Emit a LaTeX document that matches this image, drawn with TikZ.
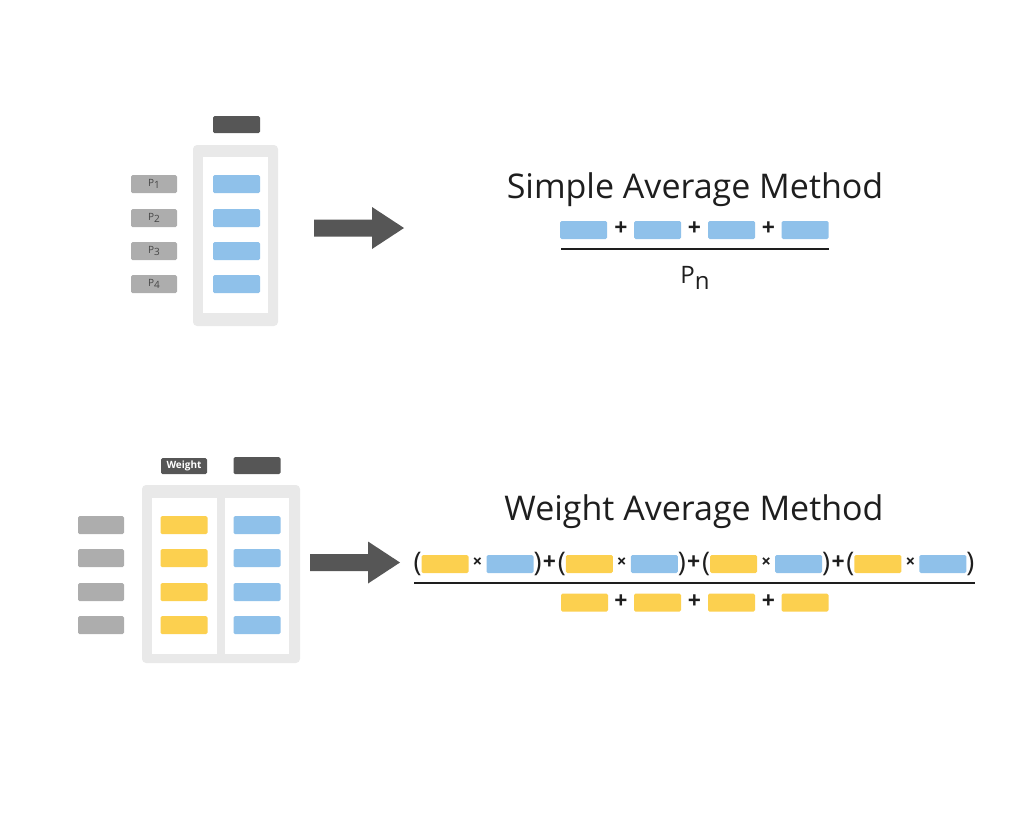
\documentclass[tikz,border=0pt]{standalone}
\usepackage{fontspec}
\setmainfont{Open Sans}
\usetikzlibrary{positioning}

\definecolor{cellblue}{HTML}{8FC1EA}
\definecolor{cellyellow}{HTML}{FCD04F}
\definecolor{headgray}{HTML}{565656}
\definecolor{labelgray}{HTML}{ADADAD}
\definecolor{framegray}{HTML}{E9E9E9}
\definecolor{inkgray}{HTML}{1E1E1E}

\begin{document}
\begin{tikzpicture}[x=1pt, y=-1pt,
  cell/.style={rectangle, rounded corners=1.5pt, minimum width=47pt, minimum height=18pt, inner sep=0pt},
  blue cell/.style={cell, fill=cellblue},
  yellow cell/.style={cell, fill=cellyellow},
  label cell/.style={cell, minimum width=46pt, fill=labelgray, text=headgray!80!black, font=\fontsize{10}{10}\selectfont},
  header/.style={cell, fill=headgray, minimum height=17pt},
  frame/.style={rectangle, rounded corners=4pt, fill=framegray, inner sep=0pt},
  column/.style={rectangle, fill=white, inner sep=0pt},
  op/.style={inner sep=0pt, text=inkgray, font=\fontsize{23}{23}\selectfont\bfseries},
  paren/.style={inner sep=0pt, text=inkgray, font=\fontsize{27}{27}\selectfont},
  title/.style={inner sep=0pt, text=inkgray, font=\fontsize{34}{34}\selectfont},
  frac line/.style={draw=inkgray, line width=2pt},
  block arrow/.style={fill=headgray}]

\useasboundingbox (0,0) rectangle (1024,820);

% simple: table
\node [frame, minimum width=85pt, minimum height=181pt] (frame-s) at (235.5,235.5) {};
\node [column, minimum width=65pt, minimum height=156pt] (col-s) at (235.5,235) {};
\node [header] (head-s) at (236.5,124.5) {};

\foreach \y [count=\i] in {184,218,251,284}
{
  \node [label cell] (p-\i) at (154,\y) {P\raisebox{-2.5pt}{\i}};
  \node [blue cell] (val-\i) at (236.5,\y) {};
}

% weight: table
\node [frame, minimum width=158pt, minimum height=178pt] (frame-w) at (221,574) {};
\node [column, minimum width=65pt, minimum height=156pt] (colw-l) at (184.5,576) {};
\node [column, minimum width=64pt, minimum height=156pt] (colw-r) at (257,576) {};
\node [header, minimum width=46pt, minimum height=16pt, text=white,
  font=\fontsize{10}{10}\selectfont\bfseries] (head-wt) at (184,466) {Weight};
\node [header] (head-w) at (257,465.5) {};

\foreach \y [count=\i] in {525,558,592,625}
{
  \node [label cell] (q-\i) at (101,\y) {};
  \node [yellow cell] (wt-\i) at (184,\y) {};
  \node [blue cell] (wv-\i) at (257,\y) {};
}

% arrows
\foreach \x/\y in {314/228, 310/562.5}
  \fill [block arrow] (\x,\y) ++(0,-8.5) -- ++(58,0) -- ++(0,-12.5) -- ++(32,21)
    -- ++(-32,21) -- ++(0,-12.5) -- ++(-58,0) -- cycle;

% simple: formula
\node [title] (title-s) at (695,190) {Simple Average Method};
\foreach \x [count=\i] in {583.5,657.5,731.5,805}
  \node [blue cell] (num-\i) at (\x,230) {};
\foreach \x [count=\i] in {621,694.5,768.5}
  \node [op] (plus-\i) at (\x,229) {+};
\coordinate (bar-s) at (561,249);
\draw [frac line] (bar-s) -- ++(268,0);
\node [op, font=\fontsize{24}{24}\selectfont] (pn) at (695,278) {P\raisebox{-6pt}{n}};

% weight: formula
\node [title] (title-w) at (694,512) {Weight Average Method};
\foreach \g in {0,...,3}
{
  \node [paren] (open-\g) at (417.5+144.3*\g,564) {(};
  \node [yellow cell] (wn-\g) at (445+144.3*\g,564) {};
  \node [op, font=\fontsize{17}{17}\selectfont\bfseries] (times-\g) at (477.5+144.3*\g,563) {×};
  \node [blue cell] (vn-\g) at (510+144.3*\g,564) {};
  \node [paren] (close-\g) at (537.5+144.3*\g,564) {)};
}
\foreach \g in {0,...,2}
  \node [op] (wplus-\g) at (549.5+144.3*\g,563) {+};
\coordinate (bar-w) at (414,583);
\draw [frac line] (bar-w) -- ++(561,0);
\foreach \x [count=\i] in {584.5,657.5,731.5,805}
  \node [yellow cell] (den-\i) at (\x,602.5) {};
\foreach \x [count=\i] in {621,694.5,768.5}
  \node [op] (dplus-\i) at (\x,601.5) {+};

\end{tikzpicture}
\end{document}
